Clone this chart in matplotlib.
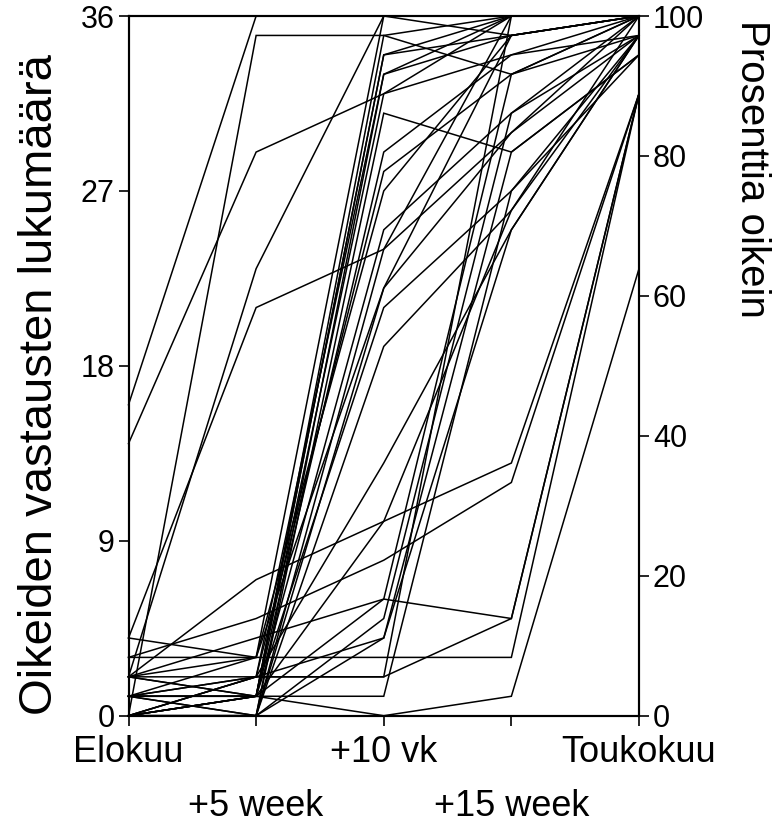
import matplotlib
matplotlib.use("Agg")
import matplotlib.pyplot as plt
import numpy as np

plt.rcParams['font.family'] = ['Liberation Sans', 'DejaVu Sans']

time_labels_top = ["Elokuu", "+10 vk", "Toukokuu"]
time_labels_bottom = ["+5 week", "+15 week"]

# Scores of each pupil (count of correct answers out of 36) at five time points
elokuu   = [16, 0, 2, 14, 4, 2, 3, 2, 3, 2, 0, 1, 0, 1, 0, 2, 0, 1, 0, 0, 2, 1, 0, 1, 0, 0, 1, 0, 1, 2, 0, 1, 0, 0, 4, 1]
week5    = [36, 35, 23, 29, 21, 7, 5, 4, 3, 1, 1, 2, 0, 1, 2, 3, 1, 0, 1, 0, 2, 2, 1, 1, 0, 2, 3, 0, 1, 1, 2, 0, 1, 0, 3, 1]
vk10     = [36, 35, 36, 32, 24, 10, 8, 6, 3, 0, 34, 33, 31, 29, 28, 27, 25, 22, 21, 19, 13, 2, 1, 6, 5, 4, 36, 33, 34, 10, 2, 24, 32, 4, 22, 35]
week15   = [36, 33, 35, 34, 30, 13, 12, 5, 3, 1, 36, 35, 29, 34, 33, 35, 31, 30, 27, 26, 25, 5, 27, 33, 31, 29, 36, 36, 35, 26, 36, 36, 36, 25, 35, 36]
toukokuu = [36, 36, 36, 35, 36, 32, 32, 32, 32, 23, 36, 36, 34, 36, 35, 36, 36, 35, 34, 36, 35, 32, 35, 36, 35, 34, 36, 36, 36, 35, 36, 36, 36, 35, 36, 36]

W, H = 774, 824
fig = plt.figure(figsize=(W/100, H/100), dpi=100)
ax = fig.add_axes([128.5/W, 1-715.7/H, (639-128.5)/W, (715.7-16)/H])

x = np.arange(5)
data = np.array([elokuu, week5, vk10, week15, toukokuu])
for i in range(data.shape[1]):
    ax.plot(x, data[:, i], color='black', lw=1.1, solid_joinstyle='miter', clip_on=False)

ax.set_xlim(0, 4)
ax.set_ylim(0, 36)
ax.set_yticks([0, 9, 18, 27, 36])
ax.set_xticks([0, 2, 4])
ax.set_xticklabels(time_labels_top)
ax.set_xticks([1, 3], minor=True)
ax.set_xticklabels(time_labels_bottom, minor=True)
fs_x = 26
fs_y = 22
ax.tick_params(axis='x', which='major', length=7, width=1.2, labelsize=fs_x, pad=7)
ax.tick_params(axis='x', which='minor', length=7, width=1.2, labelsize=fs_x, pad=46)
ax.tick_params(axis='y', length=7, width=1.2, labelsize=fs_y, pad=3)
for s in ax.spines.values():
    s.set_linewidth(1.5)

ax2 = ax.twinx()
ax2.set_ylim(0, 100)
ax2.set_yticks([0, 20, 40, 60, 80, 100])
ax2.tick_params(axis='y', length=7, width=1.2, labelsize=fs_y, pad=3)
for s in ax2.spines.values():
    s.set_linewidth(1.5)

fig.text(40/W, 1-385/H, "Oikeiden vastausten lukumäärä", rotation=90,
         ha='center', va='center', fontsize=34)
fig.text(752/W, 1-20/H, "Prosenttia oikein", rotation=-90,
         ha='center', va='top', fontsize=29)

fig.savefig("out.png", dpi=100)
